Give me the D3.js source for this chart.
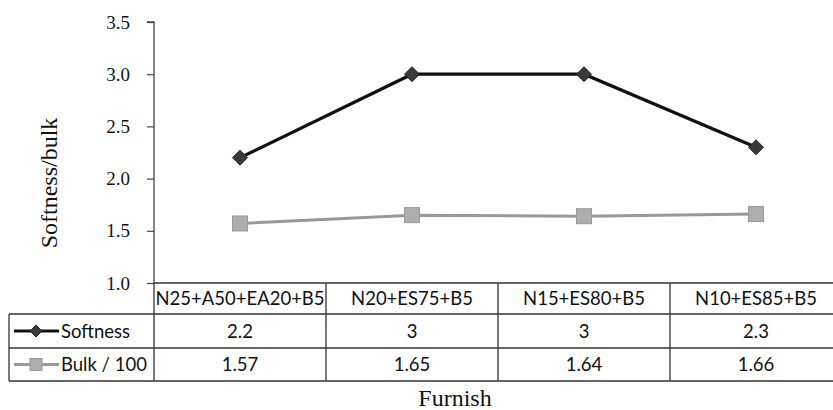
<!DOCTYPE html>
<html><head><meta charset="utf-8">
<script src="https://cdn.jsdelivr.net/npm/d3@7"></script>
<style>body{margin:0;background:#fff}svg{display:block}</style>
</head><body><svg id="c" width="833" height="410"></svg>
<script>
const categories = ["N25+A50+EA20+B5","N20+ES75+B5","N15+ES80+B5","N10+ES85+B5"];
const softness = [2.2, 3, 3, 2.3];
const bulk = [1.57, 1.65, 1.64, 1.66];
const softnessLabels = ["2.2","3","3","2.3"];
const bulkLabels = ["1.57","1.65","1.64","1.66"];
const seriesNames = ["Softness","Bulk / 100"];
const yTicks = [1.0,1.5,2.0,2.5,3.0,3.5];

const svg = d3.select("#c");
const plotLeft = 154, colW = 172, plotTop = 22, plotBottom = 283;
const x = d3.scaleBand().domain(categories).range([plotLeft, plotLeft + colW*categories.length]).padding(0);
const y = d3.scaleLinear().domain([1, 3.5]).range([plotBottom, plotTop]);
const cx = d => x(d) + x.bandwidth()/2;

// y axis
const yAxis = d3.axisLeft(y).tickValues(yTicks).tickFormat(d3.format(".1f")).tickSize(7).tickPadding(17);
const ga = svg.append("g").attr("transform", `translate(${plotLeft},0)`).call(yAxis);
ga.attr("font-family","'Liberation Serif',serif").attr("font-size",19);
ga.select(".domain").attr("stroke","#444").attr("stroke-width",1.3).attr("d",`M-7,${plotTop}H0V${plotBottom}`);
ga.selectAll(".tick line").attr("stroke","#444").attr("stroke-width",1.2);
ga.selectAll(".tick text").attr("fill","#111");

// y title
svg.append("text").attr("transform",`translate(57,183) rotate(-90)`)
  .attr("text-anchor","middle").attr("font-family","'Liberation Serif',serif").attr("font-size",24).attr("fill","#111").text("Softness/bulk");

// lines
const line = d3.line().x((d,i)=>cx(categories[i])).y(d=>y(d));
svg.append("path").datum(bulk).attr("d",line).attr("fill","none").attr("stroke","#999").attr("stroke-width",3);
svg.append("path").datum(softness).attr("d",line).attr("fill","none").attr("stroke","#111").attr("stroke-width",3.2);

const diamond = (px,py,r) => `M${px},${py-r}L${px+r},${py}L${px},${py+r}L${px-r},${py}Z`;
svg.selectAll(".sq").data(bulk).enter().append("rect")
  .attr("x",(d,i)=>cx(categories[i])-7.5).attr("y",d=>y(d)-7.5).attr("width",15).attr("height",15)
  .attr("fill","#adadad").attr("stroke","#999").attr("stroke-width",1);
svg.selectAll(".dm").data(softness).enter().append("path")
  .attr("d",(d,i)=>diamond(cx(categories[i]), y(d), 7.5))
  .attr("fill","#3a3a3a").attr("stroke","#222").attr("stroke-width",1);

// table
const rowY = [283, 314, 348, 381];
const tFont = "Lato, 'Open Sans', sans-serif";
const tg = svg.append("g").attr("stroke","#333").attr("stroke-width",1.3);
const plotRight = plotLeft + colW*categories.length;
tg.append("line").attr("x1",plotLeft).attr("x2",plotRight).attr("y1",rowY[0]).attr("y2",rowY[0]);
[1,2,3].forEach(k=>tg.append("line").attr("x1",9).attr("x2",plotRight).attr("y1",rowY[k]).attr("y2",rowY[k]));
tg.append("line").attr("x1",9).attr("x2",9).attr("y1",rowY[1]).attr("y2",rowY[3]);
categories.forEach(c=>{
  tg.append("line").attr("x1",x(c)).attr("x2",x(c)).attr("y1",rowY[0]).attr("y2",rowY[3]);
});
tg.append("line").attr("x1",plotRight).attr("x2",plotRight).attr("y1",rowY[0]).attr("y2",rowY[3]);

const cellText = (tx, ty, t, anchor) => svg.append("text").attr("x",tx).attr("y",ty)
  .attr("text-anchor",anchor||"middle").attr("font-family",tFont).attr("font-size",18.5).attr("fill","#111").text(t);
categories.forEach((c,i)=>{
  cellText(cx(c), (rowY[0]+rowY[1])/2+6.5, c);
  cellText(cx(c), (rowY[1]+rowY[2])/2+6.5, softnessLabels[i]);
  cellText(cx(c), (rowY[2]+rowY[3])/2+6.5, bulkLabels[i]);
});
const lk1 = (rowY[1]+rowY[2])/2, lk2 = (rowY[2]+rowY[3])/2;
svg.append("line").attr("x1",14).attr("x2",59).attr("y1",lk1).attr("y2",lk1).attr("stroke","#111").attr("stroke-width",3.2);
svg.append("path").attr("d",diamond(36,lk1,6)).attr("fill","#3a3a3a").attr("stroke","#222");
svg.append("line").attr("x1",14).attr("x2",59).attr("y1",lk2).attr("y2",lk2).attr("stroke","#999").attr("stroke-width",3);
svg.append("rect").attr("x",30).attr("y",lk2-6).attr("width",12).attr("height",12).attr("fill","#adadad").attr("stroke","#999");
cellText(61, lk1+6.5, seriesNames[0], "start");
cellText(61, lk2+6.5, seriesNames[1], "start");

svg.append("text").attr("x",455).attr("y",406).attr("text-anchor","middle")
  .attr("font-family","'Liberation Serif',serif").attr("font-size",24).attr("fill","#111").text("Furnish");
</script></body></html>
